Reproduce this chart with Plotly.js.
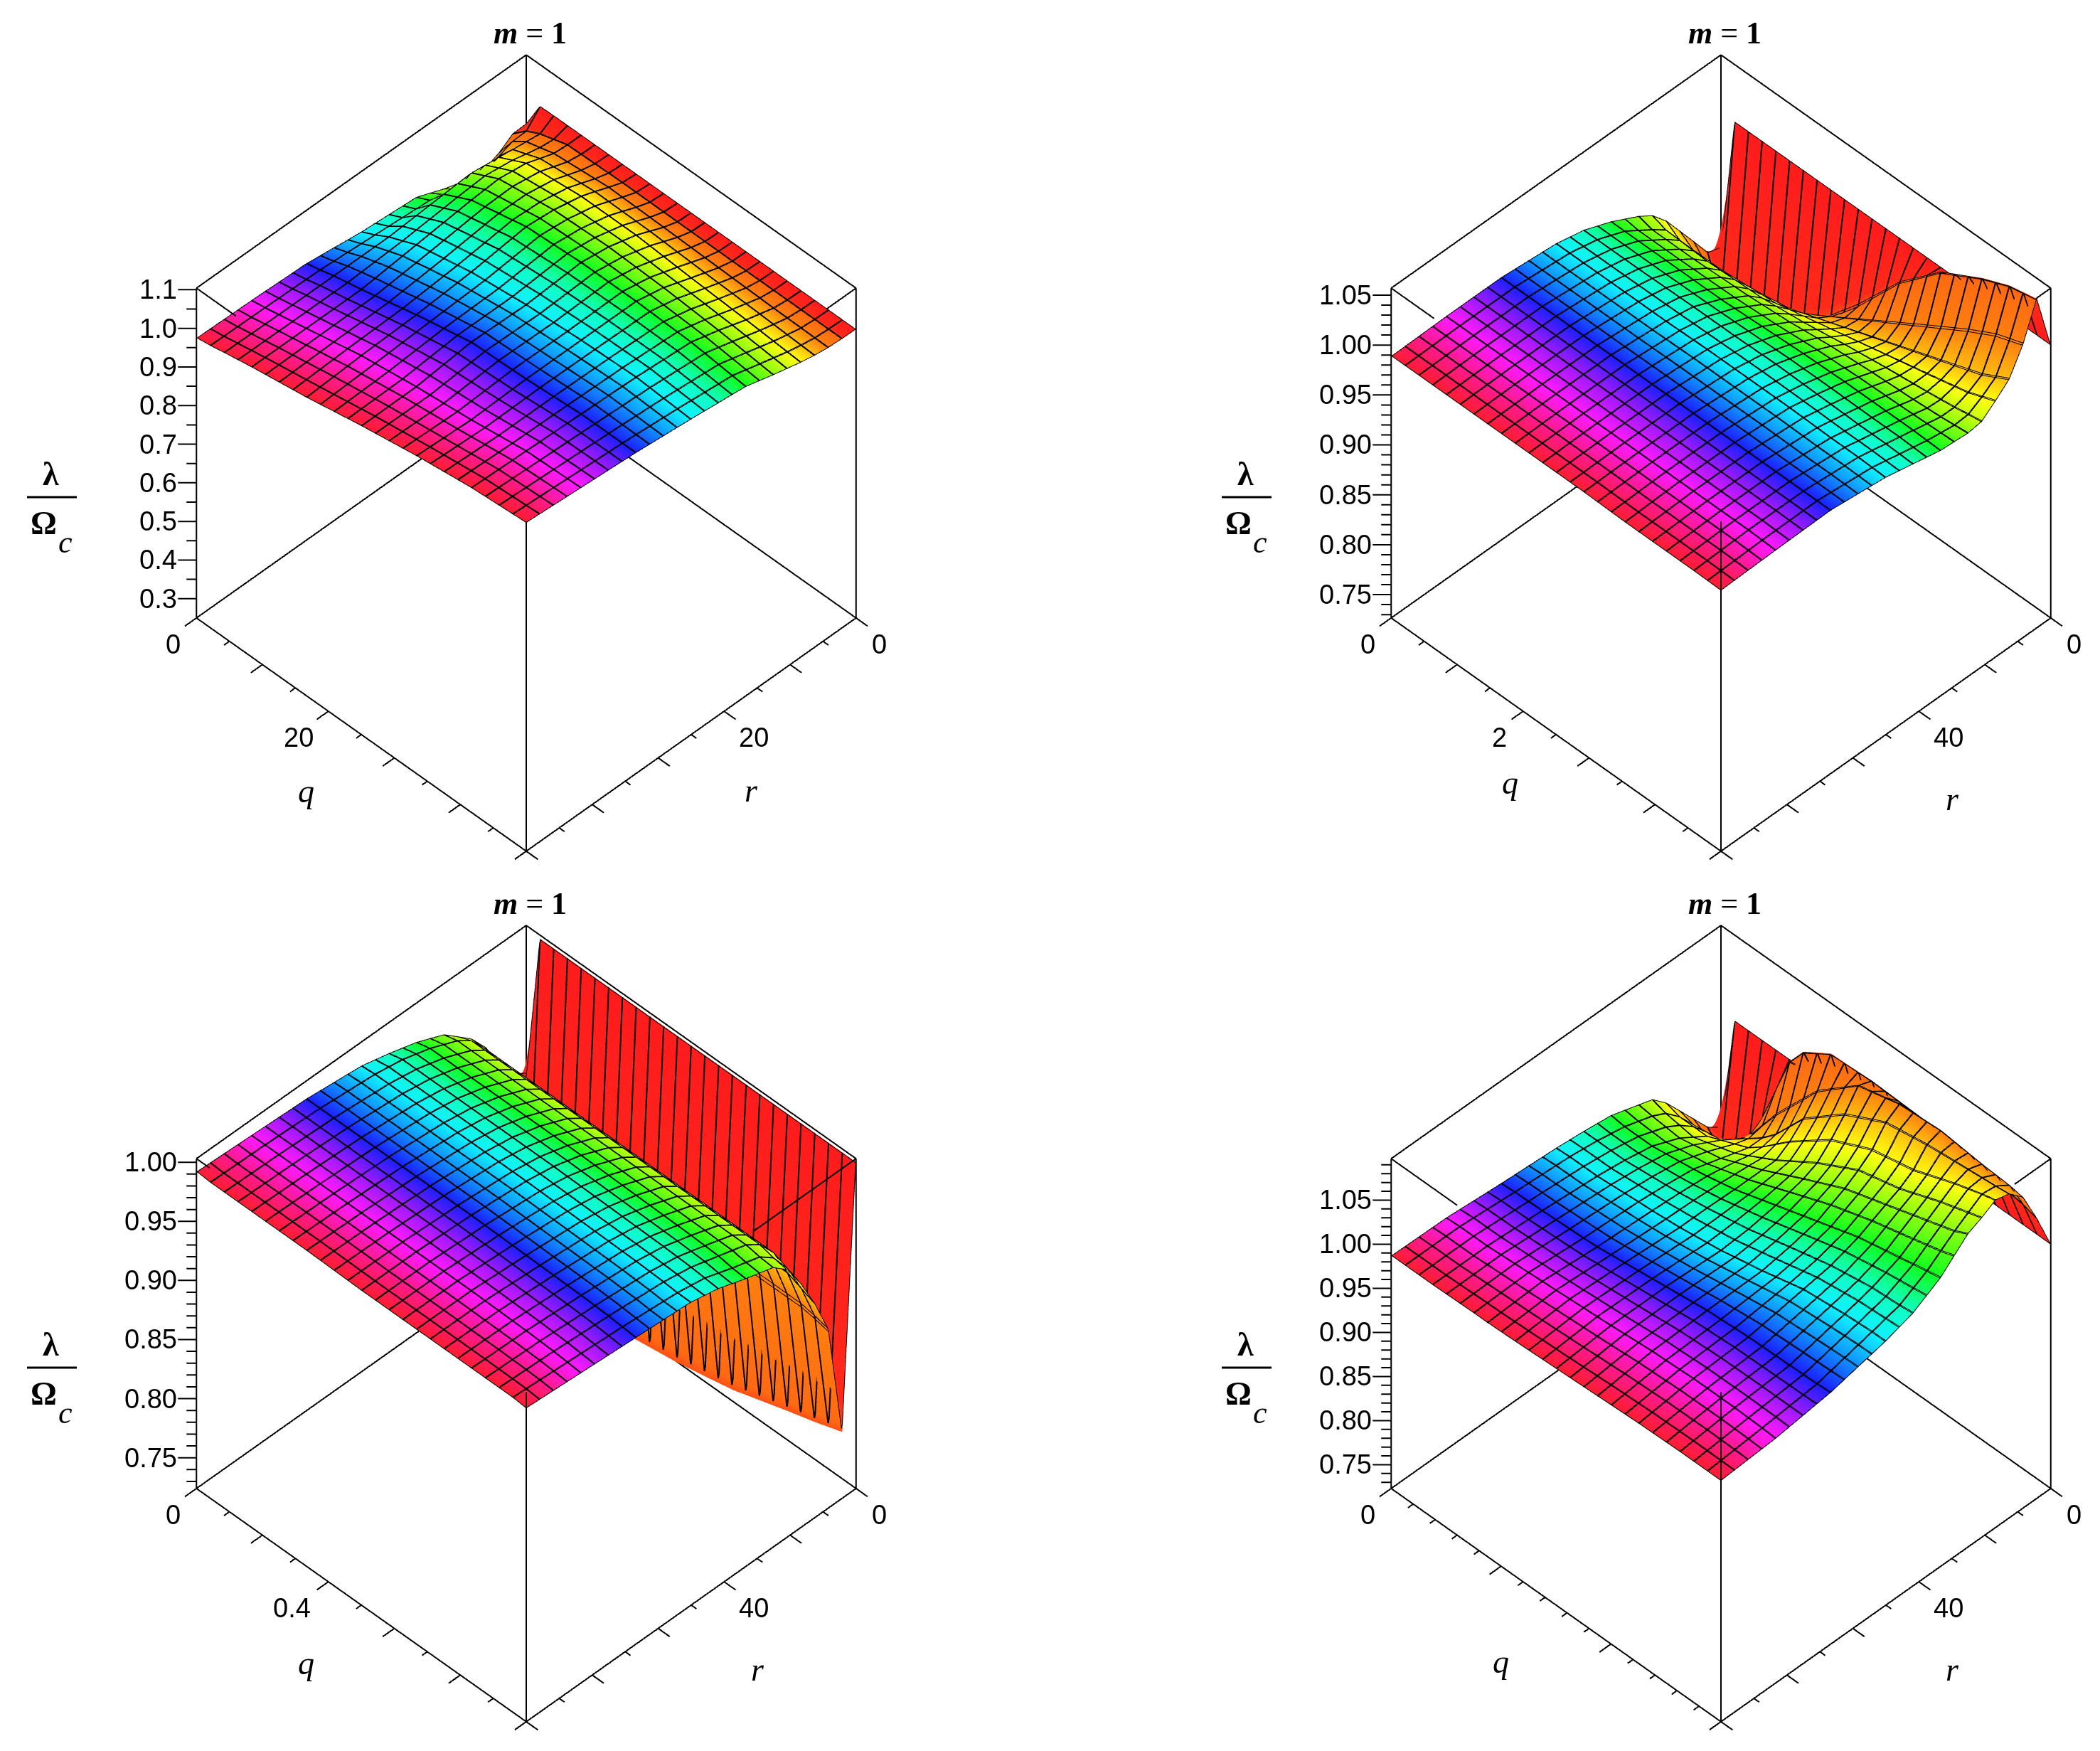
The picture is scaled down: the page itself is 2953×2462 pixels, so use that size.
<!DOCTYPE html>
<html>
<head>
<meta charset="utf-8">
<script src="https://cdn.plot.ly/plotly-3.0.1.min.js"></script>
<style>html,body{margin:0;padding:0;background:#fff}</style>
</head>
<body>
<div id="chart" style="width:2953px;height:2462px"></div>
<script>
// grid positions are mesh line numbers out of 24, r runs along the rows, q along the columns
var a_r = [0,1,2,3,4,6,8,12,16,20,24];
var a_q = [0,1,2,4,8,12,16,20,24];
var a_z = [
  [.925,.996,.997,.997,.997,.997,.997,.997,.997],
  [.925,.957,.975,.997,1.0,.999,.998,.998,.998],
  [.90,.956,.98,1.0,1.013,1.01,1.006,1.002,1.0],
  [.885,.942,.985,1.012,1.027,1.025,1.018,1.012,1.005],
  [.885,.933,.99,1.025,1.04,1.04,1.03,1.022,1.012],
  [.908,.933,1.0,1.035,1.055,1.06,1.055,1.045,1.03],
  [.937,.954,.995,1.03,1.062,1.07,1.07,1.065,1.05],
  [.948,.965,.985,1.015,1.045,1.061,1.07,1.075,1.066],
  [.967,.975,.985,1.0,1.035,1.065,1.07,1.08,1.08],
  [.972,.978,.985,1.0,1.03,1.05,1.065,1.085,1.09],
  [.975,.98,.987,1.0,1.022,1.049,1.072,1.09,1.10]
];

var b_r = [0,1,2,3,4,5,6,8,10,12,16,20,24];
var b_q = [0,1,4,8,11,14,17,20,22,24];
var b_z = [
  [.861,1,1,1,1,1,1,1,1,1],
  [.87,.83,.84,.875,.922,.975,1.015,1.038,1.05,1.056],
  [.89,.875,.875,.895,.92,.945,.97,.995,1.01,1.02],
  [.91,.90,.90,.91,.925,.94,.955,.97,.98,.995],
  [.93,.92,.92,.925,.935,.945,.955,.965,.972,.983],
  [.945,.94,.938,.94,.945,.952,.958,.963,.967,.972],
  [.954,.95,.95,.952,.955,.96,.963,.965,.967,.97],
  [.968,.968,.968,.968,.97,.972,.973,.973,.973,.972],
  [.979,.979,.979,.98,.98,.981,.98,.979,.979,.978],
  [.985,.985,.985,.985,.986,.986,.986,.985,.985,.984],
  [.99,.99,.99,.99,.99,.99,.99,.99,.99,.99],
  [.99,.99,.99,.99,.99,.99,.99,.99,.99,.989],
  [.989,.989,.989,.989,.989,.989,.988,.988,.988,.9875]
];

var c_r = [0,1,2,3,4,5,6,8,10,12,16,20,24];
var c_q = [0,1,4,8,12,16,20,22,23,24];
var c_z = [
  [.875,1,1,1,1,1,1,1,1,1],
  [.89,.73,.73,.733,.74,.75,.765,.772,.776,.78],
  [.905,.88,.88,.88,.88,.88,.88,.88,.878,.875],
  [.925,.915,.915,.915,.915,.915,.915,.915,.91,.905],
  [.94,.94,.94,.94,.94,.94,.94,.94,.935,.93],
  [.95,.955,.955,.955,.955,.955,.955,.955,.952,.95],
  [.96,.963,.963,.963,.963,.963,.963,.963,.961,.96],
  [.97,.973,.973,.973,.973,.972,.971,.97,.968,.967],
  [.977,.98,.98,.98,.98,.979,.978,.977,.976,.975],
  [.983,.984,.984,.984,.984,.983,.982,.981,.98,.98],
  [.988,.988,.988,.988,.988,.987,.986,.985,.984,.983],
  [.99,.99,.99,.99,.99,.99,.989,.988,.987,.986],
  [.992,.991,.991,.991,.99,.99,.99,.99,.99,.989]
];

var d_r = [0,1,2,3,4,5,6,8,10,12,16,20,24];
var d_q = [0,1,3,6,7,9,12,15,18,21,23,24];
var d_z = [
  [.865,1,1,1,1,1,1,1,1,1,1,1],
  [.88,.86,.89,1.02,1.042,1.062,1.064,1.062,1.06,1.05,1.045,1.04],
  [.90,.89,.90,.97,.99,1.03,1.07,1.082,1.085,1.08,1.078,1.075],
  [.92,.915,.92,.955,.97,1.01,1.048,1.072,1.08,1.085,1.088,1.09],
  [.94,.935,.935,.955,.967,.995,1.03,1.052,1.062,1.08,1.09,1.094],
  [.955,.95,.945,.96,.968,.985,1.015,1.04,1.052,1.07,1.08,1.085],
  [.96,.958,.955,.965,.972,.985,1.008,1.03,1.045,1.06,1.07,1.078],
  [.97,.968,.968,.975,.978,.985,1.0,1.015,1.03,1.04,1.047,1.05],
  [.974,.974,.974,.979,.981,.986,.995,1.008,1.02,1.028,1.03,1.032],
  [.977,.978,.978,.982,.983,.986,.993,1.003,1.015,1.02,1.022,1.022],
  [.981,.982,.983,.985,.986,.99,.996,1.002,1.005,1.006,1.007,1.008],
  [.986,.987,.987,.99,.991,.993,.996,1.0,1.002,1.002,1.001,1.0],
  [.987,.987,.987,.988,.988,.989,.991,.993,.995,.996,.996,.996]
];

// axis ranges and ticks of the four plots
var r_max = [50, 100, 100, 100];
var q_max = [50, 5, 1, 1.5];
var z_range = [[.25, 1.104], [.7266, 1.057], [.724, 1.003], [.723, 1.097]];
var r_ticks = [[0,5,10,15,20,25,30,35,40,45,50], [0,10,20,30,40,50,60,70,80,90,100], [0,10,20,30,40,50,60,70,80,90,100], [0,10,20,30,40,50,60,70,80,90,100]];
var r_major = [[0,10,20,30,40,50], [0,20,40,60,80,100], [0,20,40,60,80,100], [0,20,40,60,80,100]];
var r_labels = [{0:'0',20:'20'}, {0:'0',40:'40'}, {0:'0',40:'40'}, {0:'0',40:'40'}];
var q_ticks = [[0,5,10,15,20,25,30,35,40,45,50], [0,.5,1,1.5,2,2.5,3,3.5,4,4.5,5], [0,.1,.2,.3,.4,.5,.6,.7,.8,.9,1], [0,.1,.2,.3,.4,.5,.6,.7,.8,.9,1,1.1,1.2,1.3,1.4,1.5]];
var q_major = [[0,10,20,30,40,50], [0,1,2,3,4,5], [0,.2,.4,.6,.8,1], [0,.5,1,1.5]];
var q_labels = [{0:'0',20:'20'}, {0:'0',2:'2'}, {0:'0',.4:'0.4'}, {0:'0'}];
var z_ticks = [
  [.3,.35,.4,.45,.5,.55,.6,.65,.7,.75,.8,.85,.9,.95,1,1.05,1.1],
  [.73,.74,.75,.76,.77,.78,.79,.8,.81,.82,.83,.84,.85,.86,.87,.88,.89,.9,.91,.92,.93,.94,.95,.96,.97,.98,.99,1,1.01,1.02,1.03,1.04,1.05],
  [.73,.74,.75,.76,.77,.78,.79,.8,.81,.82,.83,.84,.85,.86,.87,.88,.89,.9,.91,.92,.93,.94,.95,.96,.97,.98,.99,1],
  [.73,.74,.75,.76,.77,.78,.79,.8,.81,.82,.83,.84,.85,.86,.87,.88,.89,.9,.91,.92,.93,.94,.95,.96,.97,.98,.99,1,1.01,1.02,1.03,1.04,1.05,1.06,1.07,1.08,1.09]
];
var z_labels = [
  {.3:'0.3',.4:'0.4',.5:'0.5',.6:'0.6',.7:'0.7',.8:'0.8',.9:'0.9',1:'1.0',1.1:'1.1'},
  {.75:'0.75',.8:'0.80',.85:'0.85',.9:'0.90',.95:'0.95',1:'1.00',1.05:'1.05'},
  {.75:'0.75',.8:'0.80',.85:'0.85',.9:'0.90',.95:'0.95',1:'1.00'},
  {.75:'0.75',.8:'0.80',.85:'0.85',.9:'0.90',.95:'0.95',1:'1.00',1.05:'1.05'}
];

const mesh_r = [a_r, b_r, c_r, d_r];
const mesh_q = [a_q, b_q, c_q, d_q];
const heights = [a_z, b_z, c_z, d_z];

// plot centres on the page, pixels
const centre_x = [740, 2420, 740, 2420];
const centre_y = [637, 637, 1861, 1861];
const half_w = 530;
const half_h = 590;
const W = 2953, H = 2462;
// axes are hidden and padded so the box and outward ticks can be drawn as traces
const pad = 0.06;
// orthographic scale follows the aspect ratio, not the eye distance
const box_scale = 1.245;
// the two upper front edges stop where the surface covers them, share of the edge drawn
const stub_left = [.12, .13, .04, .2];
const stub_right = [.09, .045, .31, .11];
// axis title nudges, pixels
const q_nudge = [[6, 0], [19, 12], [6, -2], [6, 0]];
const r_nudge = [[-9, 14], [0, 2], [0, 2], [0, 2]];
// mesh lines sit just off the grid values, contours drawn exactly on them come out as sawteeth
const eps = 0.0011;
// first r mesh line after the wall, the third plot's foot of the wall saws too much to draw
const first_r_line = [1, 1, 2, 1];

// hue runs once round the circle from r = 0 to r = max, first mesh cell stays red
const hue_scale = [
  [0, '#ff1c1c'], [.85/24, '#ff2a1a'], [1/24, '#ff6a12'], [2/24, '#ff8010'], [1/6, '#ffff10'], [1/4, '#88ff10'], [1/3, '#10ff20'],
  [5/12, '#10ffc0'], [1/2, '#10f0ff'], [7/12, '#1090ff'], [2/3, '#1a20ff'], [3/4, '#9a1aff'],
  [5/6, '#ff1aff'], [11/12, '#ff1a90'], [1, '#ff1c30']
];

function hidden_axis(lo, hi) {
  const span = hi - lo;
  return { visible: false, range: [lo - pad * span, hi + pad * span], showspikes: false };
}

const data = [];
const layout = {
  width: W,
  height: H,
  margin: { l: 0, r: 0, t: 0, b: 0 },
  paper_bgcolor: '#fff',
  showlegend: false,
  annotations: [],
  shapes: [],
};

function text_at(px, py, text, family, size) {
  layout.annotations.push({
    xref: 'paper', yref: 'paper',
    x: px / W, y: 1 - py / H,
    text: text, showarrow: false,
    xanchor: 'center', yanchor: 'middle',
    font: { family: family, size: size, color: '#000' },
  });
}

function scene_text(x, y, z, text, xshift, yshift, anchor, family, size) {
  return {
    x: x, y: y, z: z,
    text: text, showarrow: false,
    xanchor: anchor, yanchor: 'middle',
    xshift: xshift, yshift: yshift,
    font: { family: family, size: size, color: '#000' },
  };
}

for (let p = 0; p < 4; p++) {
  const scene = p === 0 ? 'scene' : 'scene' + (p + 1);
  const rm = r_max[p], qm = q_max[p];
  const z0 = z_range[p][0], z1 = z_range[p][1];
  const r_vals = mesh_r[p].map(function (i) { return i / 24 * rm; });
  const q_vals = mesh_q[p].map(function (i) { return i / 24 * qm; });
  // plotly wants z[y][x], the tables are written per r row
  const z_grid = q_vals.map(function (_, j) { return heights[p].map(function (row) { return row[j]; }); });
  data.push({
    type: 'surface',
    scene: scene,
    x: r_vals,
    y: q_vals,
    z: z_grid,
    surfacecolor: q_vals.map(function () { return r_vals; }),
    cmin: 0,
    cmax: rm,
    colorscale: hue_scale,
    showscale: false,
    hoverinfo: 'skip',
    lighting: { ambient: 1, diffuse: 0, specular: 0, roughness: 1, fresnel: 0 },
    contours: {
      // only the top edge of the wall at r = 0
      x: { show: true, start: 0.0001 * rm, end: 0.0002 * rm, size: 0.0002 * rm, color: '#000', width: 2 },
      y: { show: false },
      z: { show: false },
    },
  });
  // gl line width is capped at one pixel here, so every mesh line is drawn twice side by side
  const r_first = first_r_line[p] / 24;
  [[r_first + eps, eps], [r_first - eps, 1 / 24 - eps]].forEach(function (off) {
    data.push({
      type: 'surface',
      scene: scene,
      x: r_vals,
      y: q_vals,
      z: z_grid,
      hidesurface: true,
      showscale: false,
      hoverinfo: 'skip',
      contours: {
        x: { show: true, start: off[0] * rm, end: rm, size: rm / 24, color: '#000', width: 2 },
        y: { show: true, start: off[1] * qm, end: qm, size: qm / 24, color: '#000', width: 2 },
        z: { show: false },
      },
    });
  });

  // box edges and tick marks, one trace with gaps
  const lx = [], ly = [], lz = [];
  const seg = function (x0, y0, zz0, x1, y1, zz1) {
    lx.push(x0, x1, null); ly.push(y0, y1, null); lz.push(zz0, zz1, null);
  };
  [0, rm].forEach(function (x) {
    [0, qm].forEach(function (y) { seg(x, y, z0, x, y, z1); });
  });
  seg(0, 0, z0, rm, 0, z0); seg(0, qm, z0, rm, qm, z0);
  seg(0, 0, z0, 0, qm, z0); seg(rm, 0, z0, rm, qm, z0);
  seg(0, 0, z1, rm, 0, z1); seg(0, 0, z1, 0, qm, z1);
  seg(rm, 0, z1, rm, stub_left[p] * qm, z1);
  seg(0, qm, z1, stub_right[p] * rm, qm, z1);
  const annots = [];
  r_ticks[p].forEach(function (t) {
    const d = r_major[p].includes(t) ? 0.035 : 0.016;
    seg(t, qm, z0, t, qm * (1 + d), z0);
    const s = r_labels[p][t];
    if (s) annots.push(scene_text(t, qm, z0, s, 24 + 9 * s.length, -37, 'center', 'Liberation Sans', 38));
  });
  q_ticks[p].forEach(function (t) {
    const d = q_major[p].includes(t) ? 0.035 : 0.016;
    seg(rm, t, z0, rm * (1 + d), t, z0);
    const s = q_labels[p][t];
    if (s) annots.push(scene_text(rm, t, z0, s, -24 - 9 * s.length, -37, 'center', 'Liberation Sans', 38));
  });
  z_ticks[p].forEach(function (t) {
    const s = z_labels[p][t];
    const d = s ? 0.028 : 0.015;
    seg(rm, 0, t, rm * (1 + d), -qm * d, t);
    if (s) annots.push(scene_text(rm, 0, t, s, -25, 0, 'right', 'Liberation Sans', 38));
  });
  annots.push(scene_text(rm, qm * 0.6, z0, '<i>q</i>', -130 + q_nudge[p][0], -47 + q_nudge[p][1], 'center', 'Liberation Serif', 46));
  annots.push(scene_text(rm * 0.6, qm, z0, '<i>r</i>', 140 + r_nudge[p][0], -60 + r_nudge[p][1], 'center', 'Liberation Serif', 46));
  data.push({
    type: 'scatter3d',
    scene: scene,
    mode: 'lines',
    x: lx, y: ly, z: lz,
    line: { color: '#000', width: 4 },
    hoverinfo: 'skip',
    showlegend: false,
  });

  layout[scene] = {
    domain: {
      x: [(centre_x[p] - half_w) / W, (centre_x[p] + half_w) / W],
      y: [1 - (centre_y[p] + half_h) / H, 1 - (centre_y[p] - half_h) / H],
    },
    aspectmode: 'manual',
    aspectratio: { x: box_scale, y: box_scale, z: box_scale },
    camera: {
      projection: { type: 'orthographic' },
      up: { x: 0, y: 0, z: 1 },
      center: { x: 0, y: 0, z: 0 },
      eye: { x: 1, y: 1, z: Math.SQRT2 },
    },
    xaxis: hidden_axis(0, rm),
    yaxis: hidden_axis(0, qm),
    zaxis: hidden_axis(z0, z1),
    annotations: annots,
  };

  // title and the fraction on the left, both as page text
  const dx = p % 2 ? 1680 : 0;
  const dy = p > 1 ? 1224 : 0;
  text_at(745 + dx, 46 + dy, '<b><i>m</i></b> = <b>1</b>', 'Liberation Serif', 44);
  text_at(71 + dx, 666 + dy, '<b>λ</b>', 'Liberation Serif', 46);
  text_at(61 + dx, 735 + dy, '<b>Ω</b>', 'Liberation Serif', 46);
  text_at(92 + dx, 762 + dy, '<i>c</i>', 'Liberation Serif', 44);
  layout.shapes.push({
    type: 'line', xref: 'paper', yref: 'paper',
    x0: (38 + dx) / W, x1: (108 + dx) / W,
    y0: 1 - (699 + dy) / H, y1: 1 - (699 + dy) / H,
    line: { color: '#000', width: 3 },
  });
}

Plotly.newPlot('chart', data, layout, { displayModeBar: false, plotGlPixelRatio: 1 });
</script>
</body>
</html>
